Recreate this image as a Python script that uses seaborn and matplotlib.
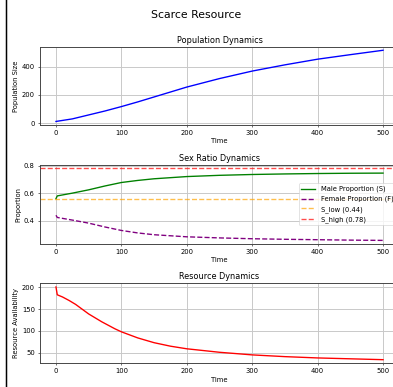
import numpy as np
import pandas as pd
import matplotlib
matplotlib.use("Agg")
import matplotlib.pyplot as plt
import seaborn as sns
from matplotlib.lines import Line2D

# ---- data ----
pop_t = [0, 25, 50, 75, 100, 125, 150, 175, 200, 250, 300, 350, 400, 450, 500]
pop_v = [12, 30, 58, 86, 117, 150, 185, 220, 255, 315, 368, 412, 452, 484, 515]

sex_t = [0, 2, 25, 50, 75, 100, 125, 150, 200, 250, 300, 350, 400, 450, 500]
male_v = [0.56, 0.58, 0.60, 0.624, 0.652, 0.677, 0.692, 0.704, 0.72, 0.729, 0.735, 0.739, 0.742, 0.744, 0.745]
female_v = [0.44, 0.424, 0.405, 0.383, 0.355, 0.33, 0.312, 0.299, 0.284, 0.276, 0.27, 0.266, 0.263, 0.26, 0.258]

s_low_label = 0.44
s_high_label = 0.78
s_low_y = 0.56
s_high_y = 0.78

res_t = [0, 2, 10, 20, 30, 40, 50, 60, 70, 80, 90, 100, 125, 150, 175, 200, 250, 300, 350, 400, 450, 500]
res_v = [201, 183, 178, 170, 161, 150, 139, 130, 121, 113, 105, 98, 84, 73, 65, 59, 51, 45, 41, 38, 36, 34]

legend_labels = ["Male Proportion (S)", "Female Proportion (F)",
                 f"S_low ({s_low_label})", f"S_high ({s_high_label})"]

DPI = 49
fig = plt.figure(figsize=(393 / DPI, 387 / DPI), dpi=DPI)

x0, w = 0.1008, 0.9155
ax1 = fig.add_axes([x0, 0.677, w, 0.2023])
ax2 = fig.add_axes([x0, 0.3695, w, 0.205])
ax3 = fig.add_axes([x0, 0.0612, w, 0.2067])

fig.suptitle("Scarce Resource", fontsize=16, y=0.961, va="center")

LW = 2.0

# Population
sns.lineplot(x=pop_t, y=pop_v, ax=ax1, color="blue", lw=LW)
ax1.set_title("Population Dynamics")
ax1.set_xlabel("Time")
ax1.set_ylabel("Population Size")
ax1.grid(True, color="#c8c8c8", lw=1.4)

# Sex ratio
sns.lineplot(x=sex_t, y=male_v, ax=ax2, color="green", lw=LW)
sns.lineplot(x=sex_t, y=female_v, ax=ax2, color="purple", linestyle="--", lw=LW)
ax2.axhline(s_low_y, color="orange", linestyle="--", alpha=0.7, lw=LW)
ax2.axhline(s_high_y, color="red", linestyle="--", alpha=0.7, lw=LW)
ax2.set_title("Sex Ratio Dynamics")
ax2.set_xlabel("Time")
ax2.set_ylabel("Proportion")
ax2.legend(handles=list(ax2.get_lines()), labels=legend_labels, loc="center right")
ax2.grid(True, color="#c8c8c8", lw=1.4)

# Resource
sns.lineplot(x=res_t, y=res_v, ax=ax3, color="red", lw=LW)
ax3.set_title("Resource Dynamics")
ax3.set_xlabel("Time")
ax3.set_ylabel("Resource Availability")
ax3.grid(True, color="#c8c8c8", lw=1.4)

for ax in (ax1, ax2, ax3):
    for s in ax.spines.values():
        s.set_color("#444444")
        s.set_linewidth(1.4)

# left border line seen in the reference
fig.add_artist(Line2D([5.5 / 393, 5.5 / 393], [0, 1], transform=fig.transFigure, color="black", lw=1.5 * 72 / DPI))

fig.savefig("out.png", dpi=DPI)
